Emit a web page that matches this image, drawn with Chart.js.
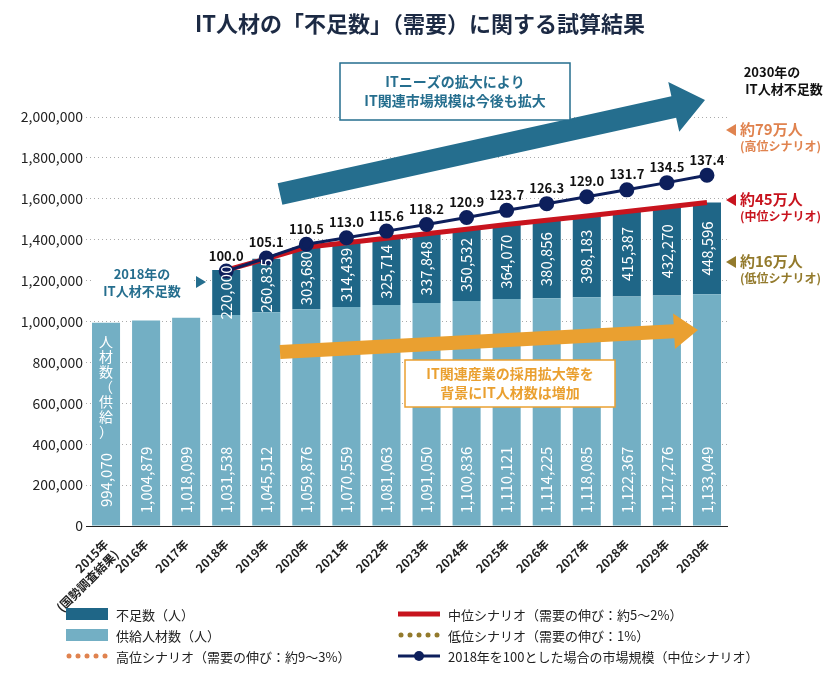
<!DOCTYPE html>
<html>
<head>
<meta charset="utf-8">
<script src="https://cdn.jsdelivr.net/npm/chart.js@4"></script>
<style>
  body { margin: 0; background: #fff; font-family: "Noto Sans CJK JP", sans-serif; }
  #wrap { position: relative; width: 840px; height: 683px; }
  #title { position: absolute; top: 6px; left: 0; width: 840px; text-align: center; font-size: 22px; font-weight: bold; color: #1c2a44; }
</style>
</head>
<body>
<div id="wrap">
  <div id="title">IT人材の「不足数」（需要）に関する試算結果</div>
  <canvas id="chart" width="840" height="683"></canvas>
</div>
<script>
const FONT = '"Noto Sans CJK JP", sans-serif';
Chart.defaults.font.family = FONT;

// Data
const years = [['2015年', '(国勢調査結果)'], '2016年', '2017年', '2018年', '2019年', '2020年', '2021年', '2022年',
  '2023年', '2024年', '2025年', '2026年', '2027年', '2028年', '2029年', '2030年'];
const supply = [994070, 1004879, 1018099, 1031538, 1045512, 1059876, 1070559, 1081063,
  1091050, 1100836, 1110121, 1114225, 1118085, 1122367, 1127276, 1133049];
const shortage = [null, null, null, 220000, 260835, 303680, 314439, 325714,
  337848, 350532, 364070, 380856, 398183, 415387, 432270, 448596];
const marketIndex = [null, null, null, 100.0, 105.1, 110.5, 113.0, 115.6,
  118.2, 120.9, 123.7, 126.3, 129.0, 131.7, 134.5, 137.4];
const highDemand = [null, null, null, 1250000, 1364000, 1433000, 1496000, 1545000,
  1594000, 1643000, 1682000, 1726000, 1775000, 1824000, 1863000, 1922000];
const lowDemand = [null, null, null, 1250000, 1256000, 1260000, 1263000, 1266000,
  1269000, 1272000, 1275000, 1278000, 1281000, 1284000, 1287000, 1291000];
const midDemand = supply.map((s, i) => shortage[i] === null ? null : s + shortage[i]);

const C_SHORT = '#1f6687', C_SUPPLY = '#73afc4', C_RED = '#c8141e', C_NAVY = '#0d1f5c',
  C_HIGH = '#e0834f', C_LOW = '#937a2c', C_TEAL = '#256e8e', C_ORANGE = '#eaa030';

function fmt(v) { return v.toLocaleString('en-US'); }

function arrow(ctx, x1, y1, x2, y2, w, head, color) {
  const a = Math.atan2(y2 - y1, x2 - x1);
  const len = Math.hypot(x2 - x1, y2 - y1);
  ctx.save();
  ctx.translate(x1, y1);
  ctx.rotate(a);
  ctx.fillStyle = color;
  ctx.beginPath();
  ctx.moveTo(0, -w / 2);
  ctx.lineTo(len - head, -w / 2);
  ctx.lineTo(len - head, -w / 2 - head * 0.45);
  ctx.lineTo(len, 0);
  ctx.lineTo(len - head, w / 2 + head * 0.45);
  ctx.lineTo(len - head, w / 2);
  ctx.lineTo(0, w / 2);
  ctx.closePath();
  ctx.fill();
  ctx.restore();
}

function box(ctx, x, y, w, h, color, lines) {
  ctx.fillStyle = '#fff';
  ctx.fillRect(x, y, w, h);
  ctx.strokeStyle = color;
  ctx.lineWidth = 1.5;
  ctx.strokeRect(x, y, w, h);
  ctx.fillStyle = color;
  ctx.font = 'bold 14px ' + FONT;
  ctx.textAlign = 'center';
  ctx.textBaseline = 'middle';
  lines.forEach((t, i) => ctx.fillText(t, x + w / 2, y + h / 2 + (i - (lines.length - 1) / 2) * 19));
}

const decor = {
  id: 'decor',
  afterDatasetsDraw(chart) {
    const ctx = chart.ctx;
    const barMeta = chart.getDatasetMeta(0);
    const shortMeta = chart.getDatasetMeta(1);
    const idxMeta = chart.getDatasetMeta(2);
    ctx.save();
    // bar value labels
    ctx.font = '15px ' + FONT;
    ctx.fillStyle = '#fff';
    ctx.textAlign = 'center';
    ctx.textBaseline = 'middle';
    barMeta.data.forEach((b, i) => {
      ctx.save();
      ctx.translate(b.x, 480);
      ctx.rotate(-Math.PI / 2);
      ctx.fillText(fmt(supply[i]), 0, 0);
      ctx.restore();
    });
    shortMeta.data.forEach((b, i) => {
      if (shortage[i] === null) return;
      ctx.save();
      ctx.translate(b.x, (b.y + b.base) / 2);
      ctx.rotate(-Math.PI / 2);
      ctx.fillText(fmt(shortage[i]), 0, 0);
      ctx.restore();
    });
    // vertical text inside 2015 bar
    ctx.font = '14px ' + FONT;
    const vx = barMeta.data[0].x;
    ['人', '材', '数', '（', '供', '給', '）'].forEach((c, i) => ctx.fillText(c, vx, 342 + i * 15));
    // index labels
    ctx.fillStyle = '#111';
    ctx.font = 'bold 13px ' + FONT;
    ctx.textBaseline = 'bottom';
    idxMeta.data.forEach((p, i) => {
      if (marketIndex[i] === null) return;
      ctx.fillText(marketIndex[i].toFixed(1), p.x, p.y - 9);
    });

    // arrows and boxes
    arrow(ctx, 280, 194, 705, 100, 22, 32, C_TEAL);
    arrow(ctx, 280, 352, 698, 330, 14, 24, C_ORANGE);
    box(ctx, 340, 63, 230, 57, C_TEAL, ['ITニーズの拡大により', 'IT関連市場規模は今後も拡大']);
    box(ctx, 405, 360, 210, 47, C_ORANGE, ['IT関連産業の採用拡大等を', '背景にIT人材数は増加']);

    // 2018 shortage note
    ctx.fillStyle = '#fff';
    ctx.fillRect(92, 264, 100, 38);
    ctx.fillStyle = C_TEAL;
    ctx.font = 'bold 13px ' + FONT;
    ctx.textAlign = 'center';
    ctx.textBaseline = 'middle';
    ctx.fillText('2018年の', 142, 274);
    ctx.fillText('IT人材不足数', 142, 291);
    ctx.beginPath();
    ctx.moveTo(196, 276); ctx.lineTo(206, 282); ctx.lineTo(196, 288); ctx.closePath(); ctx.fill();

    // right side notes
    ctx.fillStyle = '#111';
    ctx.font = 'bold 13px ' + FONT;
    ctx.fillText('2030年の', 772, 72);
    ctx.fillText('IT人材不足数', 784, 89);
    const notes = [[130, C_HIGH, '約79万人', '(高位シナリオ)'], [200, C_RED, '約45万人', '(中位シナリオ)'],
      [262, C_LOW, '約16万人', '(低位シナリオ)']];
    notes.forEach(([y, col, a, b]) => {
      ctx.fillStyle = col;
      ctx.beginPath();
      ctx.moveTo(736, y - 6); ctx.lineTo(726, y); ctx.lineTo(736, y + 6); ctx.closePath(); ctx.fill();
      ctx.textAlign = 'left';
      ctx.font = 'bold 15px ' + FONT;
      ctx.fillText(a, 740, y - 1);
      ctx.font = 'bold 12px ' + FONT;
      ctx.fillText(b, 740, y + 16);
    });

    // legend
    ctx.font = '13px ' + FONT;
    ctx.textAlign = 'left';
    const leg = [
      [66, 614, 'rect', C_SHORT, '不足数（人）'],
      [66, 635, 'rect', C_SUPPLY, '供給人材数（人）'],
      [66, 656, 'dot', C_HIGH, '高位シナリオ（需要の伸び：約9〜3%）'],
      [398, 614, 'line', C_RED, '中位シナリオ（需要の伸び：約5〜2%）'],
      [398, 635, 'dot', C_LOW, '低位シナリオ（需要の伸び：1%）'],
      [398, 656, 'marker', C_NAVY, '2018年を100とした場合の市場規模（中位シナリオ）']
    ];
    leg.forEach(([x, y, kind, col, txt]) => {
      ctx.fillStyle = col;
      ctx.strokeStyle = col;
      if (kind === 'rect') ctx.fillRect(x, y - 6, 42, 12);
      if (kind === 'dot') for (let k = 0; k < 5; k++) { ctx.beginPath(); ctx.arc(x + 3 + k * 9, y, 2.5, 0, Math.PI * 2); ctx.fill(); }
      if (kind === 'line' || kind === 'marker') {
        ctx.lineWidth = kind === 'line' ? 5 : 3;
        ctx.beginPath(); ctx.moveTo(x, y); ctx.lineTo(x + 42, y); ctx.stroke();
        if (kind === 'marker') { ctx.beginPath(); ctx.arc(x + 21, y, 5, 0, Math.PI * 2); ctx.fill(); }
      }
      ctx.fillStyle = '#222';
      ctx.fillText(txt, x + 50, y + 1);
    });
    ctx.restore();
  }
};

new Chart(document.getElementById('chart'), {
  data: {
    labels: years,
    datasets: [
      { type: 'bar', label: '供給人材数（人）', data: supply, backgroundColor: C_SUPPLY, stack: 's', order: 5, barPercentage: 0.7, categoryPercentage: 1 },
      { type: 'bar', label: '不足数（人）', data: shortage, backgroundColor: C_SHORT, stack: 's', order: 5, barPercentage: 0.7, categoryPercentage: 1 },
      { type: 'line', label: '市場規模', data: marketIndex, yAxisID: 'y2', borderColor: C_NAVY, backgroundColor: C_NAVY,
        borderWidth: 3, pointRadius: 6, order: 0 },
      { type: 'line', label: '中位', data: midDemand, borderColor: C_RED, borderWidth: 5, pointRadius: 0, order: 2 },
      { type: 'line', label: '高位', data: highDemand, borderColor: C_HIGH, borderWidth: 5, borderDash: [0.1, 11],
        borderCapStyle: 'round', pointRadius: 0, order: 3 },
      { type: 'line', label: '低位', data: lowDemand, borderColor: C_LOW, borderWidth: 5, borderDash: [0.1, 11],
        borderCapStyle: 'round', pointRadius: 0, order: 3 }
    ]
  },
  options: {
    responsive: false,
    animation: false,
    layout: { padding: { top: 117, right: 113, left: 0, bottom: 0 } },
    plugins: { legend: { display: false }, tooltip: { enabled: false } },
    scales: {
      x: {
        stacked: true,
        grid: { display: false },
        border: { color: '#222' },
        ticks: { color: '#222', font: { size: 12, weight: 'bold' }, maxRotation: 45, minRotation: 45, autoSkip: false },
        afterFit: s => { s.height = 157; }
      },
      y: {
        stacked: true,
        min: 0, max: 2000000,
        ticks: { stepSize: 200000, color: '#222', font: { size: 14 }, callback: v => fmt(v) },
        grid: { color: '#aaa', lineWidth: 1, drawTicks: false },
        border: { display: false, dash: [1, 3] },
        afterFit: s => { s.width = 86; }
      },
      y2: { display: false, min: 0.6, max: 160.1 }
    }
  },
  plugins: [decor]
});
</script>
</body>
</html>
